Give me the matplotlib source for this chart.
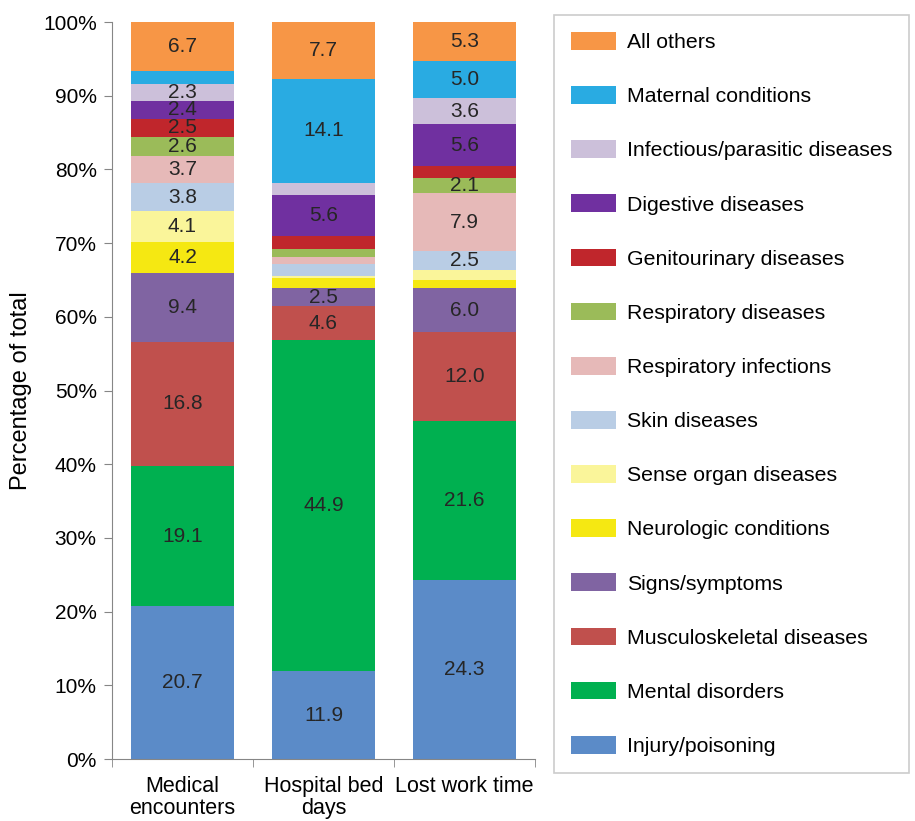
import numpy as np
import matplotlib.pyplot as plt
from matplotlib.patches import Patch
from matplotlib.ticker import FixedLocator, PercentFormatter

plt.rcParams['font.family'] = ['Liberation Sans', 'DejaVu Sans']

groups = ['Medical\nencounters', 'Hospital bed\ndays', 'Lost work time']

# bottom to top
categories = ['Injury/poisoning', 'Mental disorders', 'Musculoskeletal diseases',
              'Signs/symptoms', 'Neurologic conditions', 'Sense organ diseases',
              'Skin diseases', 'Respiratory infections', 'Respiratory diseases',
              'Genitourinary diseases', 'Digestive diseases',
              'Infectious/parasitic diseases', 'Maternal conditions', 'All others']

medical = [20.7, 19.1, 16.8, 9.4, 4.2, 4.1, 3.8, 3.7, 2.6, 2.5, 2.4, 2.3, 1.7, 6.7]
hospital = [11.9, 44.9, 4.6, 2.5, 1.4, 0.3, 1.6, 0.9, 1.1, 1.7, 5.6, 1.7, 14.1, 7.7]
lost_work = [24.3, 21.6, 12.0, 6.0, 1.1, 1.4, 2.5, 7.9, 2.1, 1.6, 5.6, 3.6, 5.0, 5.3]

colors = ['#5B8BC8', '#00B050', '#C0504D', '#8064A2', '#F5E812', '#FAF59A',
          '#B9CDE5', '#E6B9B8', '#9BBB59', '#C0262C', '#7030A0', '#CCC0DA',
          '#29ABE2', '#F79646']

data = np.array([medical, hospital, lost_work])

fig = plt.figure(figsize=(9.15, 8.21), dpi=100)
ax = fig.add_axes([0.1224, 0.0755, 0.4623, 0.8977])

x = np.arange(len(groups))
bottom = np.zeros(len(groups))
for i, cat in enumerate(categories):
    vals = data[:, i]
    ax.bar(x, vals, width=0.73, bottom=bottom, color=colors[i], linewidth=0)
    for xi, v, b in zip(x, vals, bottom):
        if v >= 2.0:
            ax.text(xi, b + v / 2, f'{v:.1f}', ha='center', va='center',
                    fontsize=15, color='#262626')
    bottom += vals

ax.set_xlim(-0.5, 2.5)
ax.set_ylim(0, 100)
ax.yaxis.set_major_locator(FixedLocator(np.arange(0, 101, 10)))
ax.yaxis.set_major_formatter(PercentFormatter(decimals=0))
ax.set_xticks(x)
ax.set_xticklabels(groups, fontsize=15.5, linespacing=1.1)
ax.set_xticks([-0.5, 0.5, 1.5, 2.5], minor=True)
ax.tick_params(axis='x', which='major', length=0, pad=12)
ax.tick_params(axis='x', which='minor', length=6, color='#868686', direction='out')
ax.tick_params(axis='y', length=6, color='#868686', labelsize=15, pad=5)
for s in ['top', 'right']:
    ax.spines[s].set_visible(False)
for s in ['left', 'bottom']:
    ax.spines[s].set_color('#868686')
ax.set_ylabel('Percentage of total', fontsize=17, labelpad=8)

handles = [Patch(facecolor=c, edgecolor='none') for c in colors]
leg = ax.legend(handles[::-1], categories[::-1], loc='upper left',
                bbox_to_anchor=(553.5 / 915, 1 - 15 / 821), bbox_transform=fig.transFigure,
                fontsize=15.3, frameon=True, fancybox=False, edgecolor='#BFBFBF',
                borderpad=0.8, labelspacing=1.6, handlelength=2.15, handleheight=0.9,
                handletextpad=0.5, borderaxespad=0)
leg.get_frame().set_linewidth(1.2)

fig.savefig('out.png', dpi=100)
